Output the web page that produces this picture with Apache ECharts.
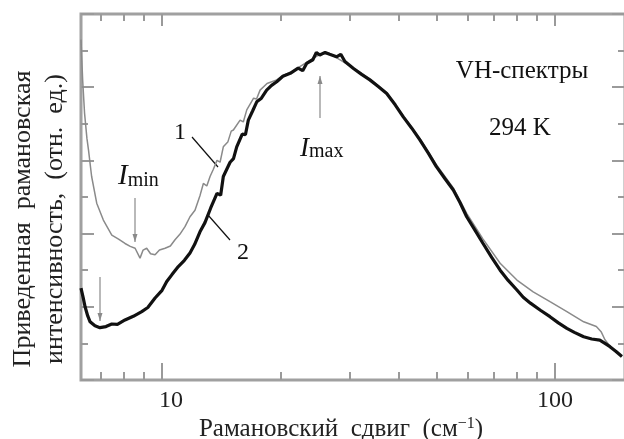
<!DOCTYPE html>
<html>
<head>
<meta charset="utf-8">
<script src="https://cdn.jsdelivr.net/npm/echarts@6/dist/echarts.min.js"></script>
<style>
  html, body { margin: 0; padding: 0; background: #fff; }
  #chart { width: 624px; height: 439px; }
</style>
</head>
<body>
<div id="chart"></div>
<script>
// curve 1 (thin, grey)
var shift1 = [6.22, 6.28, 6.35, 6.44, 6.5, 6.62, 6.82, 7.09, 7.45, 7.75, 8.05, 8.3, 8.54, 8.79, 8.95,
  9.14, 9.35, 9.6, 9.85, 10.18, 10.5, 10.79, 11.1, 11.44, 11.78, 12.13, 12.5, 12.74, 13.0, 13.25, 13.5,
  13.8, 14.05, 14.32, 14.7, 15.0, 15.19, 15.8, 16.1, 16.43, 17.1, 17.4, 17.76, 18.5, 19.58, 20.3, 21.2,
  23.33, 25.2, 26.7, 30.7, 33.8, 37.3, 41.1, 45.3, 49.9, 55.1, 59.6, 65.6, 72.5, 80, 88, 97.1, 107.2,
  118.3, 127.4, 131, 134, 138, 143, 148];
var intensity1 = [9.3, 8.2, 7.3, 6.6, 6.28, 5.56, 4.83, 4.37, 3.96, 3.85, 3.73, 3.65, 3.6, 3.33, 3.55,
  3.6, 3.45, 3.42, 3.55, 3.6, 3.66, 3.83, 3.98, 4.19, 4.46, 4.64, 5.05, 5.37, 5.3, 5.56, 5.75,
  6.0, 5.95, 6.37, 6.5, 6.8, 6.83, 7.1, 7.05, 7.38, 7.7, 7.68, 7.92, 8.1, 8.2, 8.32, 8.4,
  8.68, 8.9, 8.92, 8.53, 8.22, 7.85, 7.22, 6.6, 5.88, 5.25, 4.55, 3.85, 3.19, 2.73, 2.41, 2.14, 1.87,
  1.59, 1.46, 1.32, 1.1, 0.92, 0.78, 0.64];

// curve 2 (thick, black)
var shift2 = [6.22, 6.3, 6.37, 6.47, 6.56, 6.75, 6.95, 7.2, 7.45, 7.7, 8.05, 8.45, 8.88, 9.2, 9.6,
  10, 10.28, 10.6, 11, 11.4, 11.78, 12.1, 12.49, 12.86, 13.3, 13.8, 14.1, 14.32, 14.9, 15.2, 15.49, 16,
  16.3, 16.58, 17, 17.42, 17.9, 18.46, 19, 19.58, 20.3, 21.2, 22.2, 22.8, 23.33, 24.2, 24.7, 25.2, 26, 26.7,
  27.8, 28.5, 29.2, 30.7, 32.2, 33.8, 35.5, 37.3, 39.2, 41.1, 43.2, 45.3, 47.6, 49.9, 52.5, 55.1,
  57.3, 59.6, 62.5, 65.6, 69, 72.5, 76, 80, 83, 86.6, 92, 97.1, 102, 107.2, 112,
  118.3, 124, 130, 134, 138, 143, 148];
var intensity2 = [2.51, 2.25, 2.0, 1.75, 1.59, 1.48, 1.43, 1.46, 1.53, 1.52, 1.64, 1.74, 1.87, 1.98, 2.24,
  2.45, 2.69, 2.88, 3.1, 3.27, 3.47, 3.7, 4.05, 4.3, 4.7, 5.1, 5.05, 5.56, 5.95, 6.05, 6.37, 6.72,
  6.7, 7.1, 7.35, 7.6, 7.7, 7.92, 8.05, 8.15, 8.3, 8.38, 8.52, 8.45, 8.65, 8.75, 8.95, 8.88, 8.95, 8.9,
  8.83, 8.9, 8.7, 8.51, 8.35, 8.2, 8.02, 7.83, 7.52, 7.19, 6.88, 6.56, 6.2, 5.83, 5.5, 5.19,
  4.85, 4.46, 4.1, 3.73, 3.35, 3.0, 2.72, 2.46, 2.26, 2.1, 1.9, 1.73, 1.56, 1.41, 1.3,
  1.18, 1.12, 1.09, 1.0, 0.91, 0.78, 0.64];

var minorTicks = [7, 8, 9, 20, 30, 40, 50, 60, 70, 80, 90];
var majorTicks = [10, 100];
var xRange = [6.22, 150.7];
var yRange = [0, 10];

var FONT = "Liberation Serif";
var AXIS_GREY = "#9a9a9a";

function toLog(arr) {
  return arr.map(function (v) { return Math.log10(v); });
}
function pairs(xs, ys) {
  var out = [];
  for (var i = 0; i < xs.length; i++) out.push([Math.log10(xs[i]), ys[i]]);
  return out;
}

function xAxisDef(pos, ticks, len, withLabels) {
  return {
    type: "value",
    position: pos,
    min: Math.log10(xRange[0]),
    max: Math.log10(xRange[1]),
    axisLine: { show: false },
    splitLine: { show: false },
    axisTick: {
      show: true,
      inside: true,
      length: len,
      customValues: toLog(ticks),
      lineStyle: { color: AXIS_GREY, width: 2 },
    },
    axisLabel: withLabels
      ? {
          show: true,
          customValues: toLog(ticks),
          margin: 9,
          fontFamily: FONT,
          fontSize: 24,
          color: "#222",
          formatter: function (v) {
            var n = Math.round(Math.pow(10, v));
            return n == 10 ? "{a|10}" : "" + n;
          },
          rich: { a: { fontFamily: FONT, fontSize: 24, color: "#222", padding: [0, 0, 0, 18] } },
        }
      : { show: false },
    name: withLabels ? "Рамановский  сдвиг  (см{s|−1})" : "",
    nameLocation: "middle",
    nameGap: 36,
    nameMoveOverlap: false,
    nameTextStyle: {
      fontFamily: FONT,
      fontSize: 25,
      color: "#222",
      padding: [0, 24, 0, 0],
      rich: { s: { fontFamily: FONT, fontSize: 16, color: "#222", verticalAlign: "top", padding: [0, 0, 11, 0] } },
    },
  };
}

function yAxisDef(pos) {
  return {
    type: "value",
    position: pos,
    min: yRange[0],
    max: yRange[1],
    interval: 2,
    axisLine: { show: false },
    splitLine: { show: false },
    axisLabel: { show: false },
    axisTick: { show: true, inside: true, length: 13, lineStyle: { color: AXIS_GREY, width: 2 } },
    minorTick: { show: true, splitNumber: 2, length: 7, lineStyle: { color: AXIS_GREY, width: 2 } },
    minorSplitLine: { show: false },
  };
}

function arrow(x, y1, y2) {
  // vertical arrow from y1 to y2 (tip at y2)
  var d = y2 > y1 ? -1 : 1;
  return [
    { type: "line", shape: { x1: x, y1: y1, x2: x, y2: y2 }, style: { stroke: "#8a8a8a", lineWidth: 1.2 } },
    { type: "polygon", shape: { points: [[x - 2.5, y2 + d * 8], [x + 2.5, y2 + d * 8], [x, y2]] }, style: { fill: "#8a8a8a" } },
  ];
}

var chart = echarts.init(document.getElementById("chart"), null, { renderer: "canvas" });

var graphics = [
  {
    type: "text", x: 39, y: 219, rotation: Math.PI / 2,
    style: {
      text: "Приведенная  рамановская\nинтенсивность,  (отн.  ед.)",
      fontFamily: FONT, fontSize: 26, lineHeight: 32, fill: "#222",
      align: "center", verticalAlign: "middle",
    },
  },
  { type: "text", x: 180, y: 133, style: { text: "1", fontFamily: FONT, fontSize: 24, fill: "#111", align: "center", verticalAlign: "middle" } },
  { type: "text", x: 243, y: 253, style: { text: "2", fontFamily: FONT, fontSize: 24, fill: "#111", align: "center", verticalAlign: "middle" } },
  { type: "line", shape: { x1: 192, y1: 137, x2: 218, y2: 167 }, style: { stroke: "#111", lineWidth: 1.2 } },
  { type: "line", shape: { x1: 208, y1: 215, x2: 230, y2: 240 }, style: { stroke: "#111", lineWidth: 1.2 } },
  {
    type: "text", x: 118, y: 191,
    style: {
      text: "{i|I}{s|min}", verticalAlign: "bottom",
      rich: {
        i: { fontFamily: FONT, fontStyle: "italic", fontSize: 29, fill: "#111", verticalAlign: "bottom" },
        s: { fontFamily: FONT, fontSize: 20, fill: "#111", verticalAlign: "bottom" },
      },
    },
  },
  {
    type: "text", x: 300, y: 162,
    style: {
      text: "{i|I}{s|max}", verticalAlign: "bottom",
      rich: {
        i: { fontFamily: FONT, fontStyle: "italic", fontSize: 27, fill: "#111", verticalAlign: "bottom" },
        s: { fontFamily: FONT, fontSize: 20, fill: "#111", verticalAlign: "bottom" },
      },
    },
  },
  { type: "text", x: 522, y: 71, style: { text: "VH-спектры", fontFamily: FONT, fontSize: 25, fill: "#111", align: "center", verticalAlign: "middle" } },
  { type: "text", x: 520, y: 128, style: { text: "294 K", fontFamily: FONT, fontSize: 25, fill: "#111", align: "center", verticalAlign: "middle" } },
]
  .concat(arrow(135, 198, 242))
  .concat(arrow(100, 277, 321))
  .concat(arrow(320, 118, 76));

var option = {
  animation: false,
  backgroundColor: "#fff",
  grid: {
    left: 81, top: 14, right: -1, bottom: 59,
    outerBoundsMode: "none", containLabel: false,
    show: true, borderColor: "#a0a0a0", borderWidth: 3, backgroundColor: "transparent",
  },
  xAxis: [
    xAxisDef("bottom", minorTicks, 8, false),
    xAxisDef("bottom", majorTicks, 17, true),
    xAxisDef("top", minorTicks, 7, false),
    xAxisDef("top", majorTicks, 12, false),
  ],
  yAxis: [yAxisDef("left"), yAxisDef("right")],
  series: [
    {
      type: "line", xAxisIndex: 0, yAxisIndex: 0, showSymbol: false, symbol: "none",
      data: pairs(shift1, intensity1),
      lineStyle: { color: "#8a8a8a", width: 1.5 },
      z: 3,
    },
    {
      type: "line", xAxisIndex: 0, yAxisIndex: 0, showSymbol: false, symbol: "none",
      data: pairs(shift2, intensity2),
      lineStyle: { color: "#111", width: 3.2 },
      z: 4,
    },
  ],
  graphic: graphics,
};
chart.setOption(option);
</script>
</body>
</html>
